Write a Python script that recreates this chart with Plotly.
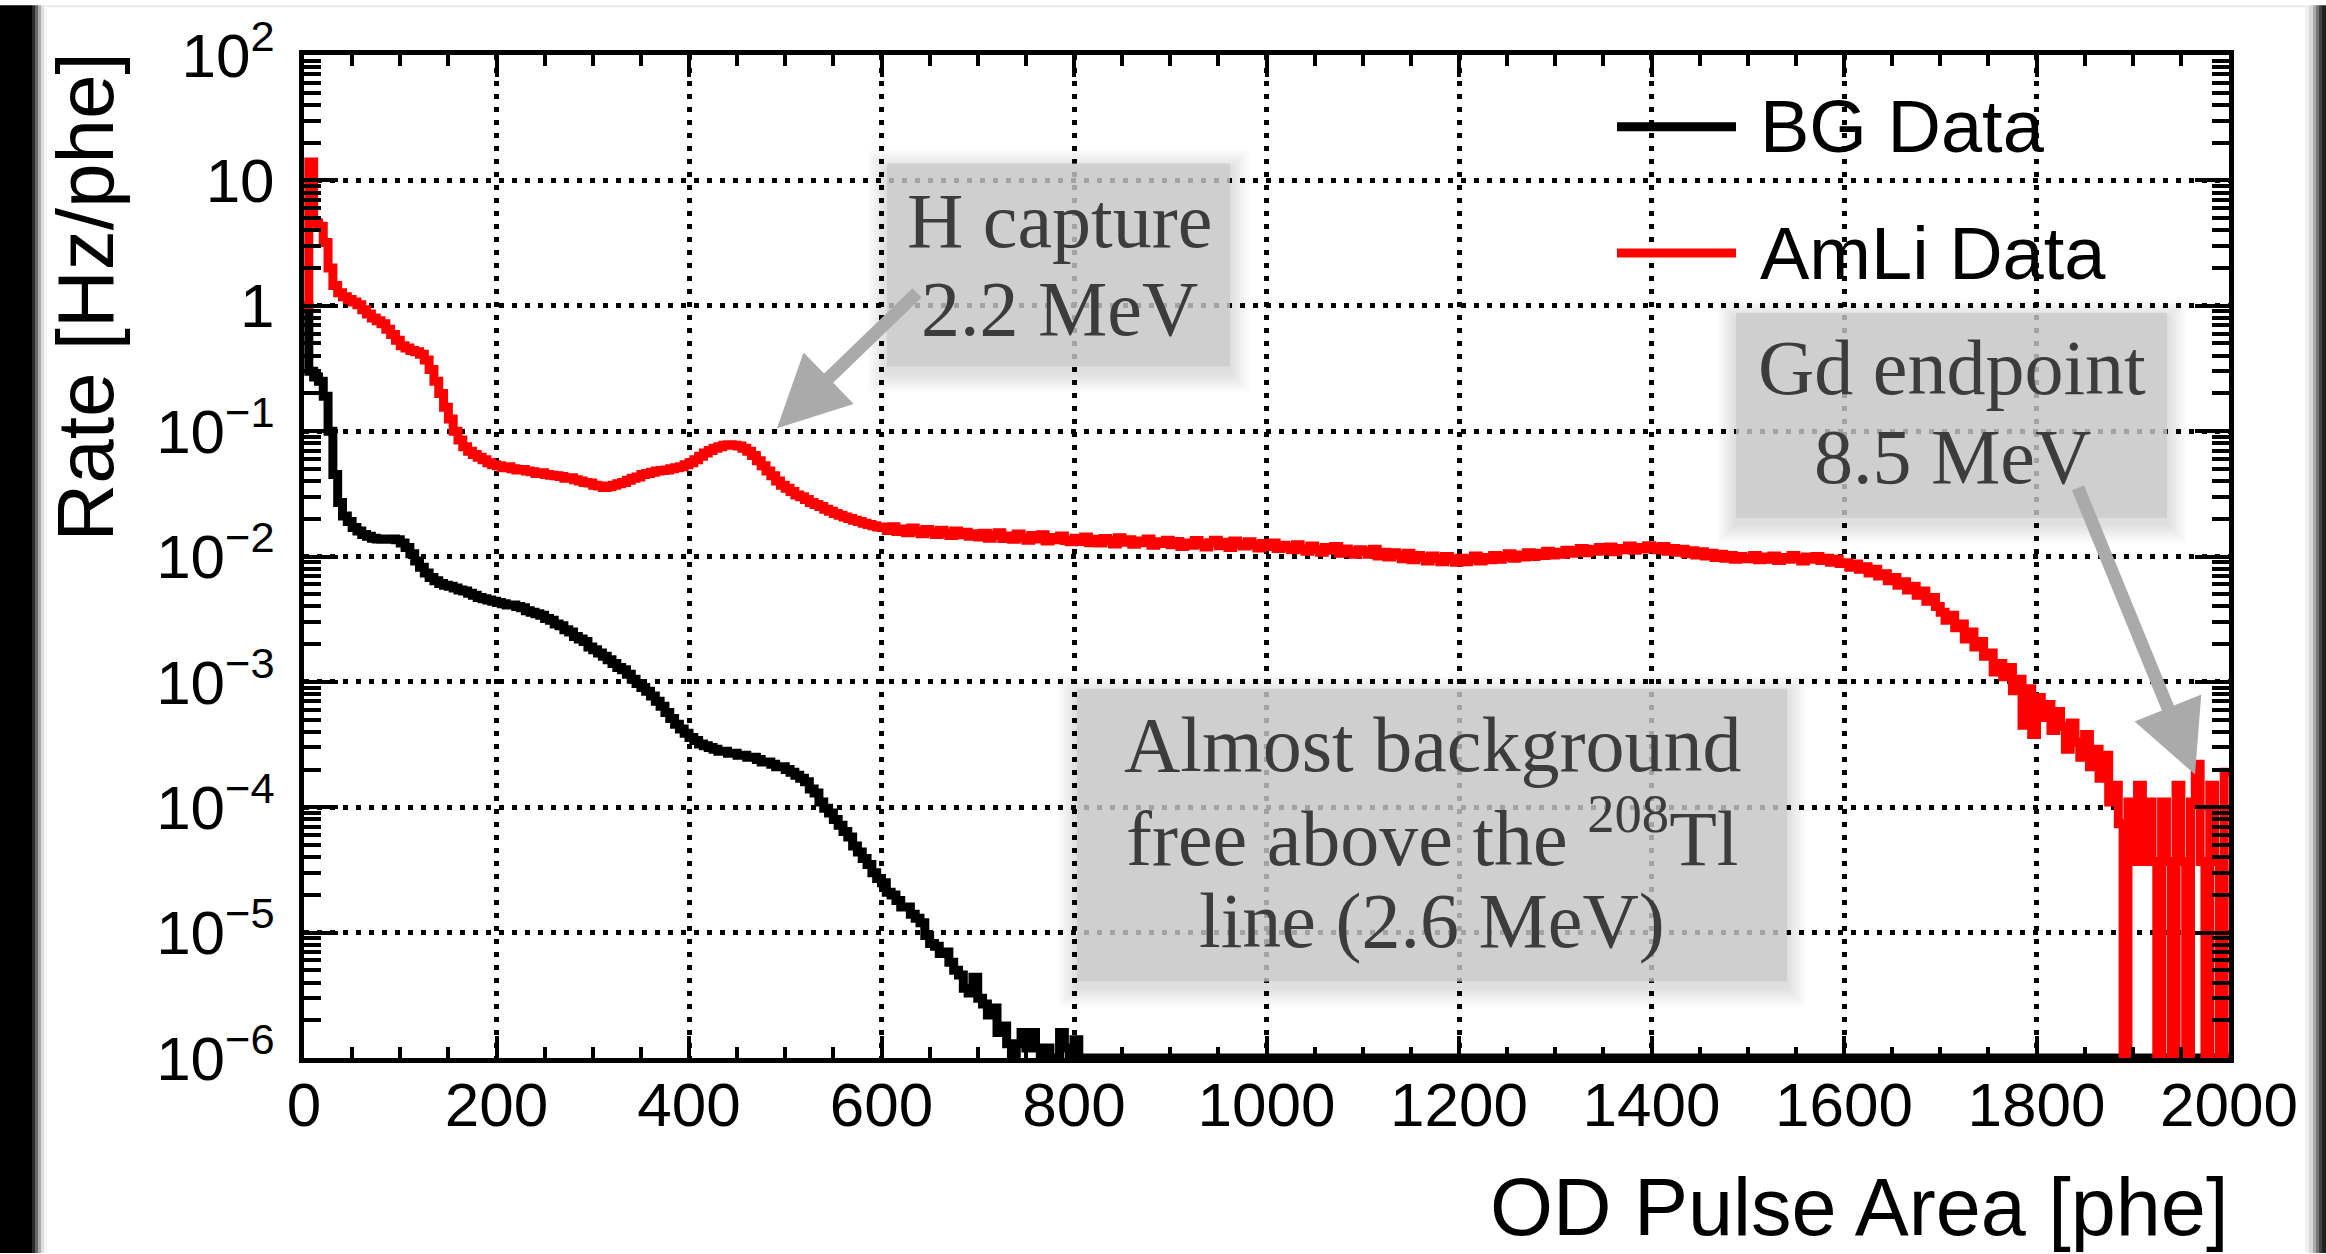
import numpy as np
import plotly.graph_objects as go

# ---------------- data (rates in Hz/phe, 5-phe bins starting at 0) ----------------
bin_width = 5
bg_rate = [
    1.0, 0.30, 0.27, 0.25, 0.19, 0.10, 0.045, 0.027, 0.021, 0.019,
    0.017, 0.016, 0.015, 0.0145, 0.014, 0.0138, 0.0137, 0.0137, 0.0138, 0.0136,
    0.0128, 0.0118, 0.0105, 0.0092, 0.0082, 0.0074, 0.0068, 0.0064, 0.0061, 0.0059,
    0.0058, 0.0056, 0.0054, 0.0053, 0.0051, 0.0049, 0.0047, 0.0046, 0.0045, 0.0044,
    0.0043, 0.0042, 0.0041, 0.0041, 0.0040, 0.0039, 0.0037, 0.0036, 0.0035, 0.0034,
    0.0032, 0.0031, 0.0029, 0.0028, 0.0026, 0.0025, 0.0023, 0.0022, 0.0021, 0.0019,
    0.0018, 0.0017, 0.0016, 0.0015, 0.0014, 0.0013, 0.00125, 0.00115, 0.00105, 0.00097,
    0.00090, 0.00084, 0.00077, 0.00070, 0.00064, 0.00057, 0.00051, 0.00046, 0.00042, 0.00039,
    0.00036, 0.00034, 0.00032, 0.00031, 0.00030, 0.00029, 0.00028, 0.00028, 0.00027, 0.00027,
    0.00026, 0.00026, 0.00025, 0.00025, 0.00024, 0.00023, 0.00023, 0.00022, 0.00021, 0.00021,
    0.00020, 0.00019, 0.00018, 0.00017, 0.00016, 0.00014, 0.00013, 0.00011, 0.000098, 0.000090,
    0.000080, 0.000072, 0.000064, 0.000058, 0.000049, 0.000044, 0.000039, 0.000035, 0.000030, 0.000027,
    0.000025, 0.000021, 0.000020, 0.000018, 0.000016, 0.000016, 0.000014, 0.000013, 0.000012, 0.0000095,
    0.0000082, 0.0000078, 0.0000068, 0.0000070, 0.0000058, 0.0000050, 0.0000046, 0.0000036, 0.0000033, 0.0000044,
    0.0000030, 0.0000027, 0.0000022, 0.0000025, 0.0000016, 0.0000018, 0.0000013, 0.0, 0.0000013, 0.0000016,
    0.0000012, 0.0000016, 0.0000012, 0.0, 0.0000012, 0.0, 0.0, 0.0000016, 0.0000012, 0.0,
    0.0000014, 0.0,
]
amli_rate = [
    1.0, 14, 4.6, 4.3, 3.2, 2.0, 1.45, 1.27, 1.18, 1.12, 1.07, 1.02, 0.93, 0.86, 0.80, 0.76, 0.72, 0.65, 0.59, 0.53,
    0.48, 0.46, 0.44, 0.43, 0.41, 0.37, 0.31, 0.25, 0.20, 0.155, 0.125, 0.10, 0.085, 0.075, 0.069, 0.065, 0.062, 0.059, 0.056, 0.054,
    0.053, 0.051, 0.052, 0.050, 0.049, 0.0495, 0.048, 0.0475, 0.046, 0.0465, 0.045, 0.0445, 0.044, 0.0435, 0.042, 0.0425, 0.041, 0.040, 0.039, 0.0385,
    0.037, 0.0365, 0.0355, 0.036, 0.037, 0.038, 0.039, 0.0405, 0.042, 0.043, 0.045, 0.046, 0.047, 0.048, 0.0485, 0.049, 0.050, 0.051, 0.052, 0.054,
    0.056, 0.059, 0.063, 0.067, 0.070, 0.073, 0.075, 0.077, 0.078, 0.077, 0.076, 0.073, 0.069, 0.064, 0.058, 0.053, 0.048, 0.044, 0.040, 0.037,
    0.035, 0.033, 0.031, 0.030, 0.0285, 0.027, 0.026, 0.025, 0.0238, 0.023, 0.022, 0.0213, 0.0207, 0.0201, 0.0195, 0.0190, 0.0184, 0.0180, 0.0176, 0.0172,
    0.0170, 0.0161, 0.0173, 0.0158, 0.0166, 0.0155, 0.0169, 0.0160, 0.0152, 0.0164, 0.0157, 0.0150, 0.0162, 0.0153, 0.0147, 0.0160, 0.0149, 0.0156, 0.0145, 0.0152,
    0.0143, 0.0153, 0.0140, 0.0148, 0.0155, 0.0139, 0.0146, 0.0137, 0.0151, 0.0141, 0.0135, 0.0147, 0.0138, 0.0149, 0.0133, 0.0142, 0.0136, 0.0146, 0.0134, 0.0131,
    0.0140, 0.0132, 0.0143, 0.0129, 0.0137, 0.0128, 0.0139, 0.0134, 0.0126, 0.0141, 0.0130, 0.0136, 0.0125, 0.0133, 0.0129, 0.0138, 0.0123, 0.0131, 0.0127, 0.0135,
    0.0124, 0.0132, 0.0120, 0.0128, 0.0123, 0.0134, 0.0126, 0.0119, 0.0129, 0.0135, 0.0122, 0.0130, 0.0118, 0.0133, 0.0125, 0.0121, 0.0131, 0.0124, 0.0117, 0.0127,
    0.0120, 0.0128, 0.0116, 0.0123, 0.0119, 0.0113, 0.0124, 0.0115, 0.0110, 0.0121, 0.0114, 0.0108, 0.0118, 0.0112, 0.0120, 0.0106, 0.0115, 0.0110, 0.0104, 0.0113,
    0.0110, 0.0104, 0.0114, 0.0101, 0.0108, 0.0099, 0.0107, 0.0103, 0.0096, 0.0106, 0.0094, 0.0102, 0.0098, 0.0092, 0.0101, 0.0097, 0.0091, 0.0100, 0.0095, 0.0090,
    0.0097, 0.0091, 0.0095, 0.0101, 0.0092, 0.0098, 0.0094, 0.0102, 0.0095, 0.0100, 0.0105, 0.0097, 0.0103, 0.0099, 0.0107, 0.0100, 0.0106, 0.0102, 0.0110, 0.0103,
    0.0108, 0.0104, 0.0112, 0.0106, 0.0111, 0.0116, 0.0107, 0.0114, 0.0110, 0.0118, 0.0111, 0.0119, 0.0109, 0.0116, 0.0113, 0.0121, 0.0112, 0.0118, 0.0115, 0.0122,
    0.0118, 0.0113, 0.0120, 0.0110, 0.0116, 0.0108, 0.0114, 0.0105, 0.0111, 0.0103, 0.0109, 0.0101, 0.0106, 0.0098, 0.0104, 0.0097, 0.0102, 0.0095, 0.0100, 0.0097,
    0.0096, 0.0102, 0.0094, 0.0099, 0.0095, 0.0101, 0.0093, 0.0098, 0.0095, 0.0102, 0.0097, 0.0092, 0.0099, 0.0095, 0.0100, 0.0093, 0.0097, 0.0090, 0.0095, 0.0088,
    0.0089, 0.0082, 0.0087, 0.0079, 0.0083, 0.0074, 0.0079, 0.0070, 0.0073, 0.0064, 0.0068, 0.0059, 0.0063, 0.0054, 0.0058, 0.0049, 0.0053, 0.0044, 0.0047, 0.0040,
    0.0036, 0.0031, 0.0034, 0.0027, 0.0029, 0.0022, 0.0025, 0.0019, 0.0021, 0.0016, 0.0017, 0.0012, 0.0014, 0.0011, 0.0013, 0.00085, 0.00105, 0.00045, 0.00088, 0.00038,
    0.00075, 0.00052, 0.00066, 0.00041, 0.00058, 0.00044, 0.00029, 0.00047, 0.00033, 0.00025, 0.00038, 0.00021, 0.00029, 0.00017, 0.00026, 0.00011, 0.00015, 0.000074, 0.0, 0.00011,
    0.000037, 0.00015, 0.000037, 0.00011, 0.000037, 0.0, 0.00011, 0.000037, 0.0, 0.00015, 0.000037, 0.0, 0.00011, 0.00022, 0.000037, 0.0, 0.00015, 0.000037, 0.0, 0.00019,
]
series_names = ["BG Data", "AmLi Data"]
series_colors = ["#000000", "#ff0000"]
x_range = [0, 2000]
y_tick_vals = [1e-6, 1e-5, 1e-4, 1e-3, 1e-2, 1e-1, 1, 10, 100]
y_tick_text = ["10<sup>\u22126</sup>", "10<sup>\u22125</sup>", "10<sup>\u22124</sup>", "10<sup>\u22123</sup>",
               "10<sup>\u22122</sup>", "10<sup>\u22121</sup>", "1", "10", "10<sup>2</sup>"]
x_title = "OD Pulse Area [phe]"
y_title = "Rate [Hz/phe]"
box_texts = [
    ["H capture", "2.2 MeV"],
    ["Gd endpoint", "8.5 MeV"],
    ["Almost background", "free above the <sup>208</sup>Tl", "line (2.6 MeV)"],
]

# ---------------- geometry ----------------
W, H = 2326, 1254
ML, MR, MT, MB = 304, 97, 50, 196
PW = W - ML - MR
PH = H - MT - MB
y_floor = 1e-6  # empty bins are drawn at the frame bottom (ROOT style)


def px(x):
    return (x - ML) / PW


def py(y):
    return (H - MB - y) / PH


def step_xy(rates):
    n_bins = int((x_range[1] - x_range[0]) / bin_width)
    r = list(rates) + [0.0] * (n_bins - len(rates))
    r = np.array(r, dtype=float)
    r = np.where(r > 0, r, y_floor)
    edges = x_range[0] + np.arange(len(r) + 1) * bin_width
    return edges, np.append(r, r[-1])


fig = go.Figure()
for rates, name, col in zip([bg_rate, amli_rate], series_names, series_colors):
    xs, ys = step_xy(rates)
    fig.add_trace(go.Scatter(x=xs, y=ys, mode="lines", name=name,
                             line=dict(color=col, width=9, shape="hv"),
                             showlegend=False, hoverinfo="skip"))

shapes = []
annotations = []

# page decoration: dark left band, right edge shading, thin top line
left_steps = [(0, 32, "#000000"), (32, 35, "#2a2a2a"), (35, 38, "#666666"),
              (38, 41, "#aaaaaa"), (41, 44, "#dddddd"), (44, 47, "#f3f3f3")]
right_steps = [(2305, 2309, "#f0f0f0"), (2309, 2313, "#d8d8d8"), (2313, 2316, "#aaaaaa"),
               (2316, 2319, "#777777"), (2319, 2322, "#444444"), (2322, 2326, "#222222")]
for a, b, c in left_steps + right_steps:
    shapes.append(dict(type="rect", xref="paper", yref="paper", x0=px(a), x1=px(b),
                       y0=py(H), y1=py(0), fillcolor=c, line=dict(width=0), layer="below"))
shapes.append(dict(type="rect", xref="paper", yref="paper", x0=px(47), x1=px(2305),
                   y0=py(2), y1=py(0), fillcolor="#e6e6e6", line=dict(width=0), layer="below"))


def add_box(x0, y0, x1, y1):
    for i in range(8, 0, -1):
        e = i * 2.4
        shapes.append(dict(type="rect", xref="paper", yref="paper",
                           x0=px(x0 - e), x1=px(x1 + e), y0=py(y1 + e + 6), y1=py(y0 - e + 6),
                           fillcolor="rgba(0,0,0,0.016)", line=dict(width=0), layer="above"))
    shapes.append(dict(type="rect", xref="paper", yref="paper",
                       x0=px(x0), x1=px(x1), y0=py(y1), y1=py(y0),
                       fillcolor="rgba(202,202,202,0.80)", line=dict(width=0), layer="above"))


def add_arrow(tail, tip, shaft_w=13, head_len=72, head_half=36, color="#aaaaaa"):
    tx, ty = tail
    hx, hy = tip
    dx, dy = hx - tx, hy - ty
    L = (dx * dx + dy * dy) ** 0.5
    ux, uy = dx / L, dy / L
    nx, ny = -uy, ux
    bx, by = hx - ux * head_len, hy - uy * head_len
    pts = [
        (tx + nx * shaft_w / 2, ty + ny * shaft_w / 2),
        (bx + nx * shaft_w / 2, by + ny * shaft_w / 2),
        (bx + nx * head_half, by + ny * head_half),
        (hx, hy),
        (bx - nx * head_half, by - ny * head_half),
        (bx - nx * shaft_w / 2, by - ny * shaft_w / 2),
        (tx - nx * shaft_w / 2, ty - ny * shaft_w / 2),
    ]
    path = "M " + " L ".join(f"{px(a):.5f},{py(b):.5f}" for a, b in pts) + " Z"
    shapes.append(dict(type="path", xref="paper", yref="paper", path=path,
                       fillcolor=color, line=dict(width=0), layer="above"))


serif = dict(family="Liberation Serif, DejaVu Serif, serif", size=78, color="#3c3c3c")

box_geoms = [
    ((887, 159, 1230, 363), 1059, [216, 305]),
    ((1736, 309, 2167, 515), 1952, [364, 453]),
    ((1077, 687, 1787, 981), 1432, [743, 831, 920]),
]
for (geom, cx, ys_), lines in zip(box_geoms, box_texts):
    add_box(*geom)
    for yy, t in zip(ys_, lines):
        annotations.append(dict(xref="paper", yref="paper", x=px(cx), y=py(yy), text=t,
                                showarrow=False, xanchor="center", yanchor="middle", font=serif))

add_arrow((917, 289), (777, 425))
add_arrow((2078, 485), (2195, 773))

# manual legend (long ROOT-style line samples)
legend_rows = [(122, series_names[0], series_colors[0]), (249, series_names[1], series_colors[1])]
for yy, name, col in legend_rows:
    shapes.append(dict(type="line", xref="paper", yref="paper", x0=px(1617), x1=px(1736),
                       y0=py(yy), y1=py(yy), line=dict(color=col, width=9), layer="above"))
    annotations.append(dict(xref="paper", yref="paper", x=px(1758), y=py(yy), text=name,
                            showarrow=False, xanchor="left", yanchor="middle",
                            font=dict(family="Liberation Sans, Arial", size=74, color="black")))

# axis titles (ROOT style: aligned to axis end)
annotations.append(dict(xref="paper", yref="paper", x=px(2230), y=py(1208), text=x_title,
                        showarrow=False, xanchor="right", yanchor="middle",
                        font=dict(family="Liberation Sans, Arial", size=81, color="black")))
annotations.append(dict(xref="paper", yref="paper", x=px(86), y=py(46), text=y_title,
                        showarrow=False, xanchor="center", yanchor="top", textangle=-90,
                        font=dict(family="Liberation Sans, Arial", size=80, color="black")))

y_minor = [m * 10.0 ** e for e in range(-6, 2) for m in range(2, 10)]

fig.update_layout(
    width=W, height=H,
    margin=dict(l=ML, r=MR, t=MT, b=MB, pad=0),
    paper_bgcolor="white", plot_bgcolor="white",
    font=dict(family="Liberation Sans, Arial", color="black"),
    shapes=shapes, annotations=annotations,
    showlegend=False,
    xaxis=dict(range=x_range, tick0=0, dtick=200, ticks="inside", ticklen=22, tickwidth=4,
               tickcolor="black", showline=True, linecolor="black", linewidth=5,
               mirror="allticks", showgrid=True, gridcolor="black", gridwidth=5,
               griddash="5px,8px", zeroline=False,
               tickfont=dict(size=62, family="Liberation Sans, Arial"),
               ticklabelstandoff=-11,
               minor=dict(dtick=50, tick0=0, ticks="inside", ticklen=11, tickwidth=4,
                          tickcolor="black", showgrid=False)),
    yaxis=dict(type="log", range=[-6, 2], tickmode="array", tickvals=y_tick_vals,
               ticktext=y_tick_text, ticks="inside", ticklen=34, tickwidth=4,
               tickcolor="black", showline=True, linecolor="black", linewidth=5,
               mirror="allticks", showgrid=True, gridcolor="black", gridwidth=5,
               griddash="5px,8px", zeroline=False,
               tickfont=dict(size=62, family="Liberation Sans, Arial"),
               ticklabelstandoff=12,
               minor=dict(tickmode="array", tickvals=y_minor, ticks="inside", ticklen=17,
                          tickwidth=4, tickcolor="black", showgrid=False)),
)

fig.write_html("out.html")
